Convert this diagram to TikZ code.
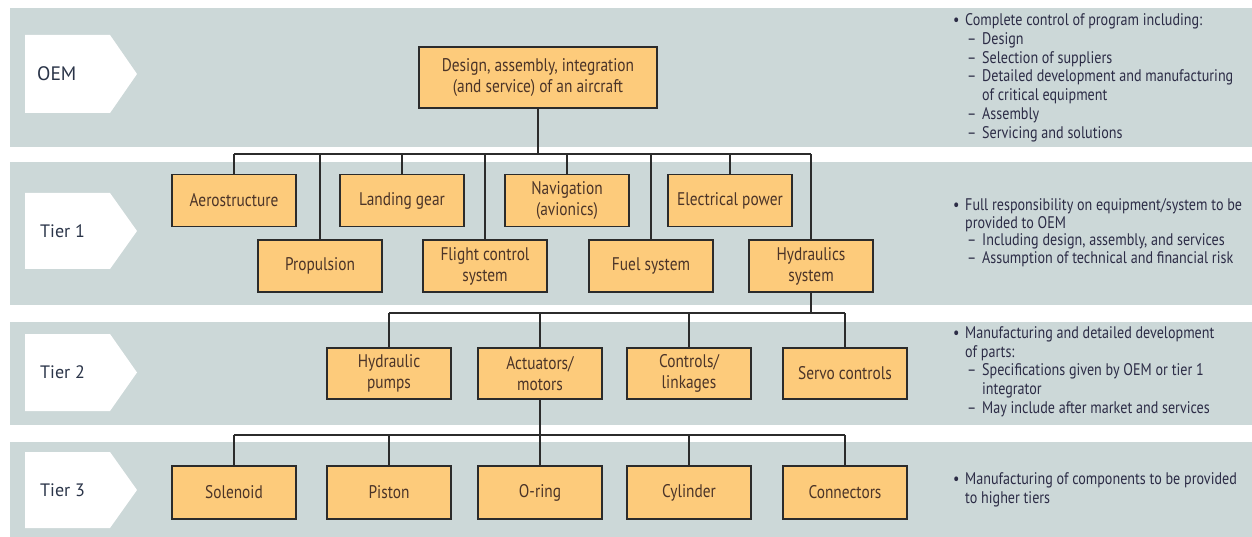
\documentclass[tikz,border=0pt]{standalone}
\usepackage{fontspec}
\setmainfont{PT Sans}
\newfontfamily\condfont[FakeStretch=0.84]{PT Sans}
\definecolor{bandc}{HTML}{CCD8D8}
\definecolor{boxfill}{HTML}{FDCB7B}
\definecolor{boxline}{HTML}{2B2B2B}
\definecolor{boxtext}{HTML}{4B3428}
\definecolor{notetext}{HTML}{2C2C46}
\definecolor{labtext}{HTML}{2A3448}
\newcommand\bul{\makebox[12pt][l]{\textbullet}}
\newcommand\dsh{\hspace*{14pt}\makebox[15pt][l]{–}}
\newcommand\bcont{\hspace*{12pt}}
\newcommand\dcont{\hspace*{29pt}}
\newcommand\notefont[1]{\condfont\fontsize{16.8}{#1}\selectfont}
\begin{document}
\begin{tikzpicture}[x=1pt,y=-1pt,
  band/.style={fill=bandc,draw=none},
  tiershape/.style={fill=white,draw=none},
  box/.style={draw=boxline,line width=1.8pt,fill=boxfill,minimum width=124pt,
    minimum height=52pt,inner sep=0pt,align=center,text=boxtext,
    font=\condfont\fontsize{18.3}{21}\selectfont},
  conn/.style={draw=boxline,line width=1.8pt},
  note/.style={anchor=base west,inner sep=0pt,text=notetext},
  lab/.style={anchor=west,inner sep=0pt,text=labtext,font=\fontsize{18}{20}\selectfont}]
\useasboundingbox (0,0) rectangle (1252,537);
\fill[white] (0,0) rectangle (1252,537);
% bands
\fill[band] (10,8) rectangle (1252,147);
\fill[band] (10,162) rectangle (1252,305);
\fill[band] (10,322) rectangle (1252,425);
\fill[band] (10,442) rectangle (1252,537);
% tier arrows
\foreach \t/\b in {35/113,193/269,334/411,452/528}{
  \fill[tiershape] (25,\t) -- (110,\t) -- (137,{(\t+\b)/2}) -- (110,\b) -- (25,\b) -- cycle;
}
\node[lab,font=\fontsize{19.5}{21}\selectfont] (loem) at (37,74) {OEM};
\node[lab] (lt1) at (40,231) {Tier 1};
\node[lab] (lt2) at (40,372.5) {Tier 2};
\node[lab] (lt3) at (40,490) {Tier 3};
% OEM
\node[box,minimum width=238pt,minimum height=61pt] (oem) at (538,77.5)
  {Design, assembly, integration\\(and service) of an aircraft};
% Tier 1
\node[box] (aero) at (234,200.5) {Aerostructure};
\node[box] (prop) at (320,266) {Propulsion};
\node[box] (land) at (402,200.5) {Landing gear};
\node[box] (flight) at (485,266) {Flight control\\system};
\node[box] (nav) at (567,200.5) {Navigation\\(avionics)};
\node[box] (fuel) at (651,266) {Fuel system};
\node[box] (elec) at (730,200.5) {Electrical power};
\node[box] (hyd) at (811,266) {Hydraulics\\system};
% Tier 2
\node[box,minimum height=51pt] (pump) at (389,373.5) {Hydraulic\\pumps};
\node[box,minimum height=51pt] (act) at (540,373.5) {Actuators/\\motors};
\node[box,minimum height=51pt] (ctrl) at (689,373.5) {Controls/\\linkages};
\node[box,minimum height=51pt] (servo) at (845,373.5) {Servo controls};
% Tier 3
\node[box,minimum height=53pt] (sol) at (234,492.5) {Solenoid};
\node[box,minimum height=53pt] (pist) at (389,492.5) {Piston};
\node[box,minimum height=53pt] (oring) at (540,492.5) {O-ring};
\node[box,minimum height=53pt] (cyl) at (689,492.5) {Cylinder};
\node[box,minimum height=53pt] (cnt) at (845,492.5) {Connectors};
% buses
\coordinate (b1) at (538,154);
\coordinate (b2) at (811,313);
\coordinate (b3) at (540,435);
\draw[conn] (oem.south) -- (b1);
\draw[conn] (aero.north |- b1) -- (hyd.north |- b1);
\foreach \n in {aero,prop,land,flight,nav,fuel,elec,hyd}{
  \draw[conn] (\n.north) -- (\n.north |- b1);
}
\draw[conn] (hyd.south) -- (b2);
\draw[conn] (pump.north |- b2) -- (servo.north |- b2);
\foreach \n in {pump,act,ctrl,servo}{
  \draw[conn] (\n.north) -- (\n.north |- b2);
}
\draw[conn] (act.south) -- (oring.north);
\draw[conn] (sol.north |- b3) -- (cnt.north |- b3);
\foreach \n in {sol,pist,cyl,cnt}{
  \draw[conn] (\n.north) -- (\n.north |- b3);
}
% notes
\node[note,font=\notefont{18.8}] (n0) at (953,25.5) {\begin{tabular}[t]{@{}l@{}}
\bul Complete control of program including:\\
\dsh Design\\
\dsh Selection of suppliers\\
\dsh Detailed development and manufacturing\\
\dcont of critical equipment\\
\dsh Assembly\\
\dsh Servicing and solutions
\end{tabular}};
\node[note,font=\notefont{17.7}] (n1) at (953,210.5) {\begin{tabular}[t]{@{}l@{}}
\bul Full responsibility on equipment/system to be\\
\bcont provided to OEM\\
\dsh Including design, assembly, and services\\
\dsh Assumption of technical and financial risk
\end{tabular}};
\node[note,font=\notefont{18.7}] (n2) at (953,338.5) {\begin{tabular}[t]{@{}l@{}}
\bul Manufacturing and detailed development\\
\bcont of parts:\\
\dsh Specifications given by OEM or tier 1\\
\dcont integrator\\
\dsh May include after market and services
\end{tabular}};
\node[note,font=\notefont{19}] (n3) at (953,484.5) {\begin{tabular}[t]{@{}l@{}}
\bul Manufacturing of components to be provided\\
\bcont to higher tiers
\end{tabular}};
\end{tikzpicture}
\end{document}
